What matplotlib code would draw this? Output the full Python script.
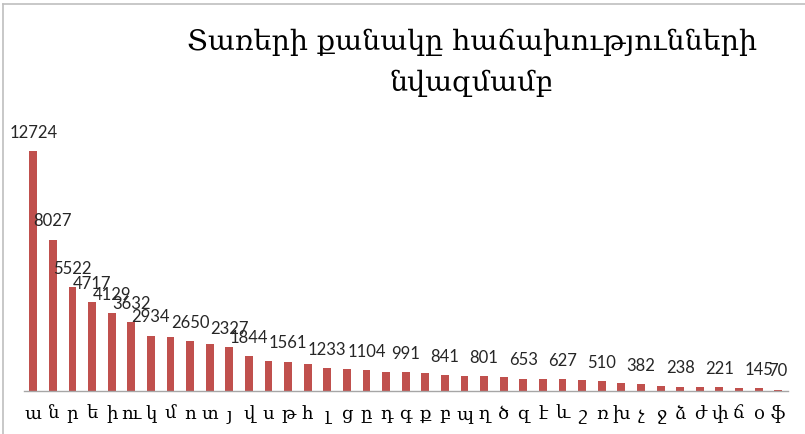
import numpy as np
import matplotlib.pyplot as plt
from matplotlib.lines import Line2D

# letters sorted by frequency, with counts
letters = ['ա', 'ն', 'ր', 'ե', 'ի', 'ու', 'կ', 'մ', 'ո', 'տ', 'յ', 'վ', 'ս',
           'թ', 'հ', 'լ', 'ց', 'ը', 'դ', 'գ', 'ք', 'բ', 'պ', 'ղ', 'ծ', 'զ',
           'է', 'և', 'շ', 'ռ', 'խ', 'չ', 'ջ', 'ձ', 'ժ', 'փ', 'ճ', 'օ', 'ֆ']
counts = [12724, 8027, 5522, 4717, 4129, 3632, 2934, 2850, 2650, 2480, 2327,
          1844, 1600, 1561, 1450, 1233, 1170, 1104, 1030, 991, 960, 841, 820,
          801, 720, 653, 640, 627, 560, 510, 420, 382, 260, 238, 230, 221,
          170, 145, 70]
# only these bars carry a value label
labeled = [0, 1, 2, 3, 4, 5, 6, 8, 10, 11, 13, 15, 17, 19, 21, 23, 25, 27,
           29, 31, 33, 35, 37, 38]

title = 'Տառերի քանակը հաճախությունների\nնվազմամբ'

W, H = 805, 434
fig = plt.figure(figsize=(W / 100, H / 100), dpi=100)

# plot area in pixels
x0, x1 = 23.5, 788.0
base_y, top_y = 391.0, 120.0
ax = fig.add_axes([x0 / W, (H - base_y) / H, (x1 - x0) / W, (base_y - top_y) / H])

x = np.arange(len(letters))
ax.bar(x, counts, width=0.4, color='#C0504D')

ymax = (base_y - top_y) * 12724 / 240.0
ax.set_xlim(-0.5, len(letters) - 0.5)
ax.set_ylim(0, ymax)

for i in labeled:
    ax.annotate(str(counts[i]), (x[i], counts[i]), xytext=(0, 9.5),
                textcoords='offset points', ha='center', va='baseline',
                fontsize=12, family='Lato', color='#262626')

ax.set_xticks(x)
ax.set_xticklabels(letters, family='DejaVu Serif', fontsize=13, color='black')
ax.tick_params(axis='x', length=0, pad=10)
ax.set_yticks([])
for s in ['top', 'right', 'left']:
    ax.spines[s].set_visible(False)
ax.spines['bottom'].set_color('#A6A6A6')
ax.spines['bottom'].set_linewidth(1.0)

fig.text(472 / W, 1 - 29 / H, title, ha='center', va='top',
         family='DejaVu Serif', fontsize=20.5, color='black', linespacing=1.6)

# outer chart border
fig.add_artist(Line2D([3 / W, 1], [1 - 4 / H, 1 - 4 / H], color='#BFBFBF', lw=1.2))
fig.add_artist(Line2D([3 / W, 3 / W], [0, 1 - 4 / H], color='#BFBFBF', lw=1.2))

fig.savefig('out.png', dpi=100)
